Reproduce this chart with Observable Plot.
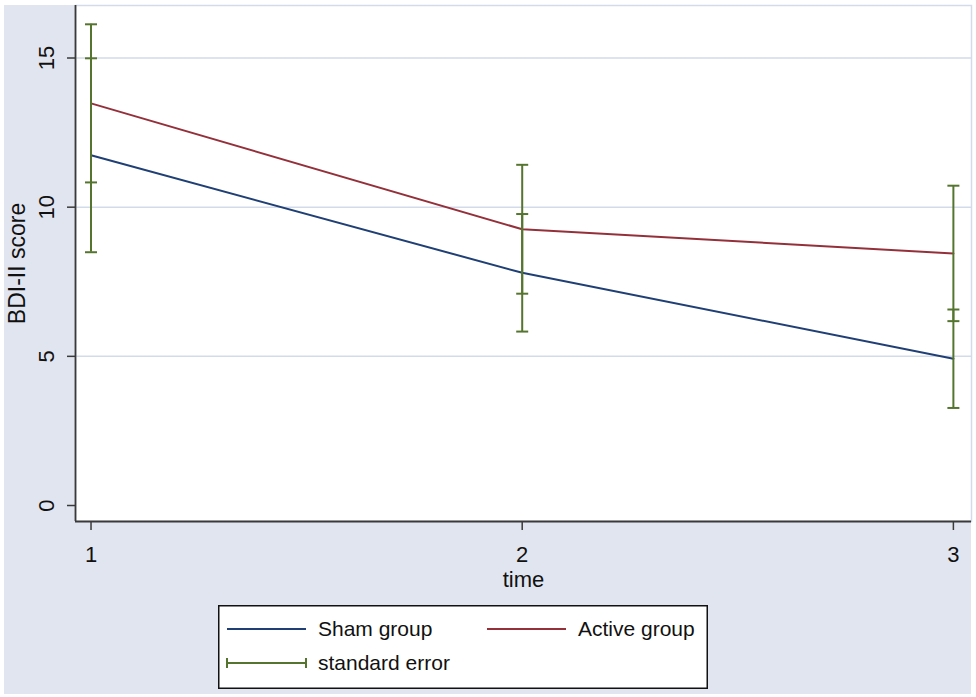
<!DOCTYPE html>
<html>
<head>
<meta charset="utf-8">
<script src="https://cdn.jsdelivr.net/npm/d3@7"></script>
<script src="https://cdn.jsdelivr.net/npm/@observablehq/plot@0.6"></script>
<style>
  html, body { margin: 0; padding: 0; background: #ffffff; width: 976px; height: 697px; overflow: hidden; }
  #bg { position: absolute; left: 4px; top: 5px; width: 967px; height: 689px; background: #e1e5ef; }
  #chart { position: absolute; left: 0; top: 0; }
  #legend { position: absolute; left: 218px; top: 605px; }
  text { font-family: "Liberation Sans", Arial, sans-serif; }
</style>
</head>
<body>
<div id="bg"></div>
<div id="chart"></div>
<div id="legend"></div>
<script>
// ---- data ----
const time = [1, 2, 3];
const shamMean = [11.74, 7.80, 4.92];
const activeMean = [13.48, 9.26, 8.45];
const shamSE = [3.25, 1.97, 1.65];
const activeSE = [2.65, 2.16, 2.27];
const groups = ["Sham group", "Active group"];
const xTicks = [1, 2, 3];
const yTicks = [0, 5, 10, 15];
const yGrid = [5, 10, 15];
const xLabel = "time";
const yLabel = "BDI-II score";
const seLabel = "standard error";

const navy = "#1f3f75", maroon = "#94303a", green = "#55752f";
const gridColor = "#d3dbea";
const axisColor = "#3a3a3a";

const xMin = 0.964, xMax = 3.042;
const yMin = -0.536, yMax = 16.76;

const means = [];
time.forEach((t, i) => {
  means.push({time: t, value: shamMean[i], group: groups[0]});
  means.push({time: t, value: activeMean[i], group: groups[1]});
});
const errs = [];
time.forEach((t, i) => {
  errs.push({time: t, lo: shamMean[i] - shamSE[i], hi: shamMean[i] + shamSE[i], group: groups[0]});
  errs.push({time: t, lo: activeMean[i] - activeSE[i], hi: activeMean[i] + activeSE[i], group: groups[1]});
});
const caps = errs.flatMap(d => [{time: d.time, y: d.lo}, {time: d.time, y: d.hi}]);

// horizontal cap symbol (half-width = r)
const capSymbol = {
  draw(ctx, size) {
    const w = Math.sqrt(size / Math.PI);
    ctx.moveTo(-w, 0);
    ctx.lineTo(w, 0);
  }
};

const font = "Liberation Sans, Arial, sans-serif";

const chart = Plot.plot({
  width: 976,
  height: 600,
  marginLeft: 75,
  marginRight: 5,
  marginTop: 5,
  marginBottom: 79,
  style: {background: "transparent", fontFamily: font, color: "#111"},
  x: {domain: [xMin, xMax], axis: null},
  y: {domain: [yMin, yMax], axis: null},
  color: {domain: groups, range: [navy, maroon]},
  marks: [
    Plot.frame({fill: "white", stroke: gridColor, strokeWidth: 1.5}),
    Plot.gridY(yGrid, {stroke: gridColor, strokeOpacity: 1, strokeWidth: 1.5}),
    Plot.axisY(yTicks, {tickSize: 8, tickFormat: () => "", label: null, stroke: axisColor, strokeWidth: 1.5}),
    Plot.axisX(xTicks, {tickSize: 9, tickFormat: () => "", label: null, stroke: axisColor, strokeWidth: 1.5}),
    Plot.ruleX([xMin], {stroke: axisColor, strokeWidth: 1.8}),
    Plot.ruleY([yMin], {stroke: axisColor, strokeWidth: 1.8}),
    Plot.text(yTicks, {y: d => d, text: d => String(d), frameAnchor: "left", dx: -29, rotate: -90, textAnchor: "middle", lineAnchor: "middle", fontSize: 22, fill: "#111"}),
    Plot.text(xTicks, {x: d => d, text: d => String(d), frameAnchor: "bottom", dy: 33, textAnchor: "middle", lineAnchor: "middle", fontSize: 22, fill: "#111"}),
    Plot.text([xLabel], {text: d => d, frameAnchor: "bottom", dy: 58, textAnchor: "middle", lineAnchor: "middle", fontSize: 22, fill: "#111"}),
    Plot.text([yLabel], {text: d => d, frameAnchor: "left", dx: -58, rotate: -90, textAnchor: "middle", lineAnchor: "middle", fontSize: 23, fill: "#111"}),
    Plot.line(means, {x: "time", y: "value", z: "group", stroke: "group", strokeWidth: 2}),
    Plot.ruleX(errs, {x: "time", y1: "lo", y2: "hi", stroke: green, strokeWidth: 2}),
    Plot.dot(caps, {x: "time", y: "y", r: 6, symbol: capSymbol, stroke: green, strokeWidth: 2, fill: "none"})
  ]
});
document.getElementById("chart").appendChild(chart);

// ---- legend ----
const lw = 490, lh = 84;
const svg = d3.select("#legend").append("svg").attr("width", lw).attr("height", lh);
svg.append("rect").attr("x", 0.75).attr("y", 0.75).attr("width", lw - 1.5).attr("height", lh - 1.5)
  .attr("fill", "white").attr("stroke", "#111").attr("stroke-width", 1.5);
const items = [
  {label: groups[0], color: navy, x: 9, y: 24, caps: false},
  {label: groups[1], color: maroon, x: 269, y: 24, caps: false},
  {label: seLabel, color: green, x: 9, y: 58, caps: true}
];
items.forEach(it => {
  svg.append("line").attr("x1", it.x).attr("x2", it.x + 79).attr("y1", it.y).attr("y2", it.y)
    .attr("stroke", it.color).attr("stroke-width", 2);
  if (it.caps) {
    [it.x, it.x + 79].forEach(cx => svg.append("line").attr("x1", cx).attr("x2", cx)
      .attr("y1", it.y - 5).attr("y2", it.y + 5).attr("stroke", it.color).attr("stroke-width", 2));
  }
  svg.append("text").attr("x", it.x + 91).attr("y", it.y).attr("dy", "0.35em")
    .attr("font-size", 21).attr("fill", "#111").attr("font-family", font).text(it.label);
});
</script>
</body>
</html>
